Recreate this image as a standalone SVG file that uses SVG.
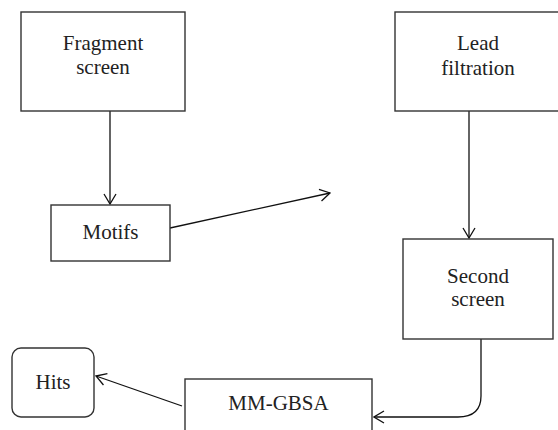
<svg xmlns="http://www.w3.org/2000/svg" width="558" height="430" viewBox="0 0 558 430">
  <style>
    .box { fill: #ffffff; stroke: #333333; stroke-width: 1.4; }
    .lbl { font-family: "Liberation Serif", "DejaVu Serif", serif; font-size: 21px; fill: #222222; text-anchor: middle; }
    .edge { fill: none; stroke: #111111; stroke-width: 1.3; }
  </style>
  <defs>
    <marker id="open" viewBox="0 0 12 14" refX="11" refY="7" markerWidth="12" markerHeight="14" markerUnits="userSpaceOnUse" orient="auto">
      <path d="M1,1 L11,7 L1,13" fill="none" stroke="#111111" stroke-width="1.3"/>
    </marker>
  </defs>
  <rect width="558" height="430" fill="#ffffff"/>

  <g id="edges">
    <path class="edge" d="M110,111 L110,204" marker-end="url(#open)"/>
    <path class="edge" d="M170,228 L330,193" marker-end="url(#open)"/>
    <path class="edge" d="M469,111 L469,238" marker-end="url(#open)"/>
    <path class="edge" d="M481,339 L481,396 Q481,417 458,417 L374,417" marker-end="url(#open)"/>
    <path class="edge" d="M182,406 L96,376" marker-end="url(#open)"/>
  </g>

  <g id="fragment-screen">
    <rect class="box" x="21" y="12" width="164" height="99"/>
    <text class="lbl" x="103" y="50">Fragment</text>
    <text class="lbl" x="103" y="74">screen</text>
  </g>

  <g id="lead-filtration">
    <rect class="box" x="395" y="12" width="170" height="99"/>
    <text class="lbl" x="478" y="50">Lead</text>
    <text class="lbl" x="478" y="75">filtration</text>
  </g>

  <g id="motifs">
    <rect class="box" x="51" y="205" width="119" height="56"/>
    <text class="lbl" x="110.5" y="239">Motifs</text>
  </g>

  <g id="second-screen">
    <rect class="box" x="403" y="239" width="150" height="100"/>
    <text class="lbl" x="478" y="283">Second</text>
    <text class="lbl" x="478" y="306">screen</text>
  </g>

  <g id="mm-gbsa">
    <rect class="box" x="185" y="379" width="187" height="60"/>
    <text class="lbl" x="278.5" y="410">MM-GBSA</text>
  </g>

  <g id="hits">
    <rect class="box" x="12" y="348" width="82" height="69" rx="9" ry="9"/>
    <text class="lbl" x="53" y="389">Hits</text>
  </g>
</svg>
